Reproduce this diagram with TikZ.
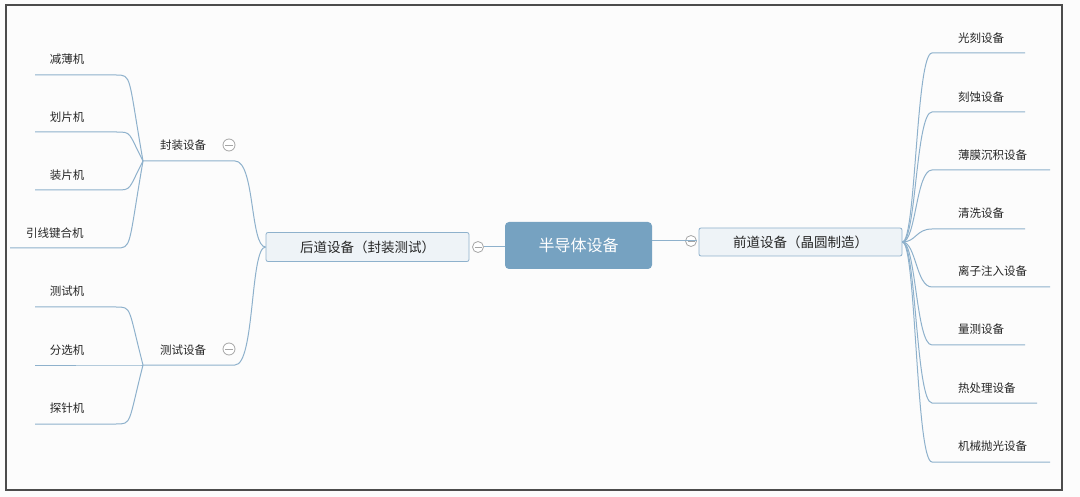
\documentclass[tikz,border=0pt]{standalone}
\usepackage{fontspec}
\setmainfont{Noto Sans CJK SC}
\begin{document}
\begin{tikzpicture}[x=1pt,y=-1pt,
  ln/.style={draw=lnc,line width=1pt},
  leaf/.style={font=\fontsize{11.5}{13}\selectfont,text=black!85,inner sep=0pt},
  coll/.style={circle,draw=gray!70,line width=0.8pt,minimum size=11pt,inner sep=0pt,fill=white},
  mainbox/.style={draw=lnc,fill=boxf,rounded corners=2pt,line width=0.8pt,font=\fontsize{13.5}{15}\selectfont,text=black!85}]
\definecolor{lnc}{HTML}{8EB1CC}
\definecolor{boxf}{HTML}{EEF3F7}
\definecolor{cen}{HTML}{76A2C1}
\useasboundingbox (0,0) rectangle (1080,497);
\fill[white!98!gray] (0,0) rectangle (1080,497);
\draw[line width=1.6pt,draw=black!70] (6,5) rectangle (1062,490);
% center
\node[fill=cen,rounded corners=4pt,minimum width=147pt,minimum height=47pt,text=white,font=\fontsize{16}{18}\selectfont] (c) at (578.5,245.5) {半导体设备};
\node[mainbox,minimum width=203pt,minimum height=29pt] (L) at (367.5,247) {后道设备（封装测试）};
\node[mainbox,minimum width=203pt,minimum height=28pt] (R) at (800.5,242) {前道设备（晶圆制造）};
\node[coll] (cl) at (478,247) {};
\node[coll] (cr) at (691,241) {};
\draw[ln] (c.west|-cl) -- (cl.east);
\draw[ln] (c.east|-cr) -- (cr.east);
\draw[line width=0.8pt,gray!70] ([xshift=-3.5pt]cl.center) -- ([xshift=3.5pt]cl.center);
\draw[line width=0.8pt,gray!70] ([xshift=-3.5pt]cr.center) -- ([xshift=3.5pt]cr.center);
% left subs
\node[leaf] (s1) at (183,145) {封装设备};
\node[leaf] (s2) at (183,350) {测试设备};
\foreach \n/\y in {c1/145,c2/349}{
  \node[coll,minimum size=12pt] (\n) at (229,\y) {};
  \draw[line width=0.8pt,gray!70] (225,\y) -- (233,\y);}
\coordinate (s1a) at (143,161); \coordinate (s1b) at (235,161);
\coordinate (s2a) at (143,365); \coordinate (s2b) at (235,365);
\draw[ln] (s1a) -- (s1b) .. controls (255,161) and (250,247) .. (L.west);
\draw[ln] (s2a) -- (s2b) .. controls (255,365) and (250,247) .. (L.west);
% left leaves
\foreach \t/\x/\y/\u/\a/\p in {减薄机/67/59/75/35/s1a,划片机/67/117/132/35/s1a,装片机/67/175/190/35/s1a,引线键合机/55/233/248/10/s1a,测试机/67/291/307/35/s2a,分选机/67/350/365/35/s2a,探针机/67/408/424/35/s2a}{
  \node[leaf] at (\x,\y) {\t};
  \coordinate (la) at (\a,\u); \coordinate (lb) at (116,\u);
  \draw[ln] (la) -- (lb) .. controls (132,\u) and (128,\u) .. (\p);
}
% right leaves
\foreach \t/\y/\u/\e in {光刻设备/38/53/1025,刻蚀设备/97/112/1025,薄膜沉积设备/155/170/1050,清洗设备/213/229/1025,离子注入设备/271/287/1050,量测设备/329/345/1025,热处理设备/388/403/1037,机械抛光设备/446/462/1050}{
  \node[leaf,anchor=west] at (958,\y) {\t};
  \coordinate (ra) at (932,\u); \coordinate (rb) at (\e,\u);
  \draw[ln] (R.east) .. controls (916,242) and (916,\u) .. (ra) -- (rb);
}
\end{tikzpicture}
\end{document}
